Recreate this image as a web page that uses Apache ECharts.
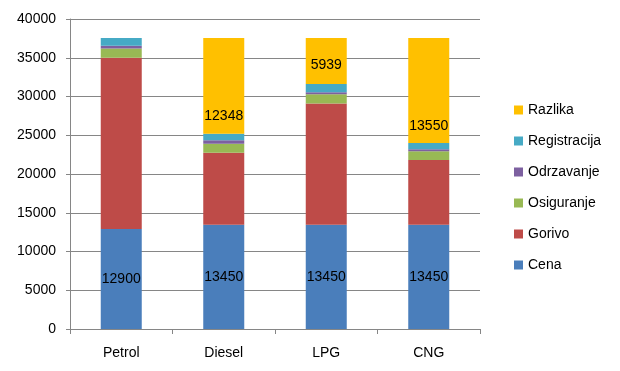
<!DOCTYPE html>
<html>
<head>
<meta charset="utf-8">
<script src="https://cdn.jsdelivr.net/npm/echarts@6/dist/echarts.min.js"></script>
<style>html,body{margin:0;padding:0;background:#fff;}#c{width:620px;height:371px;}</style>
</head>
<body>
<div id="c"></div>
<script>
var categories = ['Petrol', 'Diesel', 'LPG', 'CNG'];
var cena = [12900, 13450, 13450, 13450];
var gorivo = [22100, 9300, 15650, 8350];
var osiguranje = [1200, 1150, 1200, 1150];
var odrzavanje = [350, 450, 250, 250];
var registracija = [1000, 850, 1050, 800];
var razlika = [0, 12348, 5939, 13550];
var seriesNames = ['Cena', 'Gorivo', 'Osiguranje', 'Odrzavanje', 'Registracija', 'Razlika'];
var yTicks = [0, 5000, 10000, 15000, 20000, 25000, 30000, 35000, 40000];

var colors = ['#4A7EBB', '#BE4B48', '#98B954', '#7D60A0', '#46AAC5', '#FFC000'];
var values = [cena, gorivo, osiguranje, odrzavanje, registracija, razlika];
var FONT = 'Liberation Sans';
var razOffsets = [0, 30, 4, 36];

var series = seriesNames.map(function (name, i) {
  var data = values[i].map(function (v, j) {
    if (i === 5) {
      return { value: v, label: { show: v > 0, offset: [0, razOffsets[j]] } };
    }
    return v;
  });
  return {
    name: name,
    type: 'bar',
    stack: 'total',
    barWidth: '40%',
    data: data,
    itemStyle: { color: colors[i] },
    label: {
      show: i === 0 || i === 5,
      position: 'inside',
      color: '#000',
      fontFamily: FONT,
      fontSize: 14
    },
    emphasis: { disabled: true },
    animation: false
  };
});

var chart = echarts.init(document.getElementById('c'), null, { renderer: 'canvas' });
chart.setOption({
  animation: false,
  grid: { left: 70, right: 140, top: 19, bottom: 42 },
  legend: {
    orient: 'vertical',
    left: 509,
    top: 97,
    icon: 'rect',
    itemWidth: 9,
    itemHeight: 9,
    itemGap: 15,
    data: seriesNames.slice().reverse(),
    textStyle: { fontFamily: FONT, fontSize: 14, color: '#000', lineHeight: 16 },
    selectedMode: false
  },
  xAxis: {
    type: 'category',
    data: categories,
    axisLine: { lineStyle: { color: '#868686' } },
    axisTick: { show: true, length: 5, lineStyle: { color: '#868686' } },
    axisLabel: { fontFamily: FONT, fontSize: 14, color: '#000', margin: 17 }
  },
  yAxis: {
    type: 'value',
    min: yTicks[0],
    max: yTicks[yTicks.length - 1],
    interval: yTicks[1] - yTicks[0],
    axisLine: { show: true, lineStyle: { color: '#868686' } },
    axisTick: { show: true, length: 4, lineStyle: { color: '#868686' } },
    splitLine: { lineStyle: { color: '#868686' } },
    axisLabel: { fontFamily: FONT, fontSize: 14, color: '#000', margin: 14,
      formatter: function (v) { return String(v); } }
  },
  series: series
});
</script>
</body>
</html>
